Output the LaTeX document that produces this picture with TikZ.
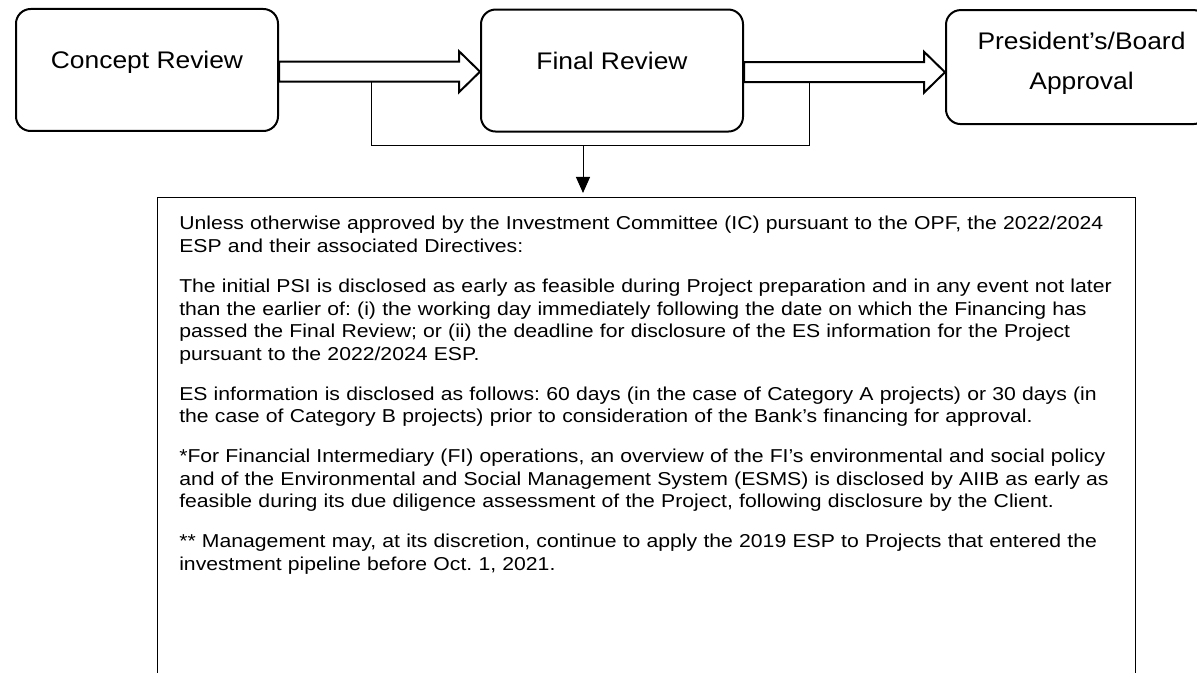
\documentclass[tikz,border=0pt]{standalone}
\usepackage{fontspec}
\setmainfont{Liberation Sans}
\newfontfamily\stagefont[FakeStretch=1.1]{Liberation Sans}
\newfontfamily\notefont[FakeStretch=1.135]{Liberation Sans}
\usetikzlibrary{positioning,calc,arrows.meta}
\frenchspacing

% hollow block arrow from one box side to the next
\newcommand\hollowarrow[2]{%
  \coordinate (from) at ($(#1)+(0,1.7)$);
  \coordinate (to) at (from -| #2);
  \draw[blockline] ($(from)+(0,-10)$) -- ($(to)+(-21,-10)$)
    -- ($(to)+(-21,-20.5)$) -- (to) -- ($(to)+(-21,20.5)$)
    -- ($(to)+(-21,10)$) -- ($(from)+(0,10)$) -- cycle;}

\begin{document}
\begin{tikzpicture}[x=0.75pt, y=-0.75pt, node distance=150.75pt,
    stage/.style={draw, line width=1.5pt, rounded corners=11pt,
      minimum width=196.5pt, minimum height=91.5pt, inner sep=0pt},
    stagetext/.style={font=\stagefont\fontsize{18}{30}\selectfont, inner sep=0pt},
    blockline/.style={line width=1.5pt, line join=miter},
    thinline/.style={line width=0.75pt},
    downarrow/.style={thinline, -{Triangle[length=12pt, width=10.5pt]}, shorten >=3pt},
    notebox/.style={draw, line width=0.75pt, minimum width=733.9pt,
      minimum height=390pt, inner sep=0pt},
    notetext/.style={font=\notefont\fontsize{14}{16.9}\selectfont, text width=730pt,
      align=left, inner sep=0pt}]
  \useasboundingbox (0,0) rectangle (1197,673);
  \clip (0,0) rectangle (1197,673);

  % process stages
  \node[stage] (concept) at (147,70) {};
  \node[stage] (final) [right=of concept, yshift=-0.4pt] {};
  \node[stage, minimum height=85.5pt] (board) [right=of final, yshift=2.6pt] {};

  \node[stagetext, anchor=base] (conceptlbl) at ([yshift=1.2pt]concept.center) {Concept Review};
  \node[stagetext, anchor=base] (finallbl) at ([yshift=1pt]final.center) {Final Review};
  \node[stagetext, anchor=base, text width=200pt, align=center] (boardlbl)
    at ([xshift=3.4pt, yshift=12.8pt]board.center) {President’s/Board\\Approval};

  \hollowarrow{concept.east}{final.west}
  \hollowarrow{final.east}{board.west}

  % disclosure notes
  \node[notebox, anchor=north west] (notes) at (156.5,197) {};
  \node[notetext, anchor=base west] (notestxt) at (179,230) {%
    Unless otherwise approved by the Investment Committee (IC) pursuant to the OPF, the 2022/2024\\
    ESP and their associated Directives:\\[13.1pt]
    The initial PSI is disclosed as early as feasible during Project preparation and in any event not later\\
    than the earlier of: (i) the working day immediately following the date on which the Financing has\\
    passed the Final Review; or (ii) the deadline for disclosure of the ES information for the Project\\
    pursuant to the 2022/2024 ESP.\\[13.1pt]
    ES information is disclosed as follows: 60 days (in the case of Category A projects) or 30 days (in\\
    the case of Category B projects) prior to consideration of the Bank’s financing for approval.\\[13.1pt]
    *For Financial Intermediary (FI) operations, an overview of the FI’s environmental and social policy\\
    and of the Environmental and Social Management System (ESMS) is disclosed by AIIB as early as\\
    feasible during its due diligence assessment of the Project, following disclosure by the Client.\\[13.1pt]
    ** Management may, at its discretion, continue to apply the 2019 ESP to Projects that entered the\\
    investment pipeline before Oct. 1, 2021.};

  % bracket joining both arrows
  \coordinate (forkleft) at ($(concept.east)+(92,11.7)$);
  \coordinate (forkright) at ($(final.east)+(65,11.7)$);
  \coordinate (fork) at (583,146);
  \draw[thinline] (forkleft) -- (forkleft |- fork) -- (forkright |- fork) -- (forkright);
  \draw[downarrow] (fork) -- (fork |- notes.north);
\end{tikzpicture}
\end{document}
